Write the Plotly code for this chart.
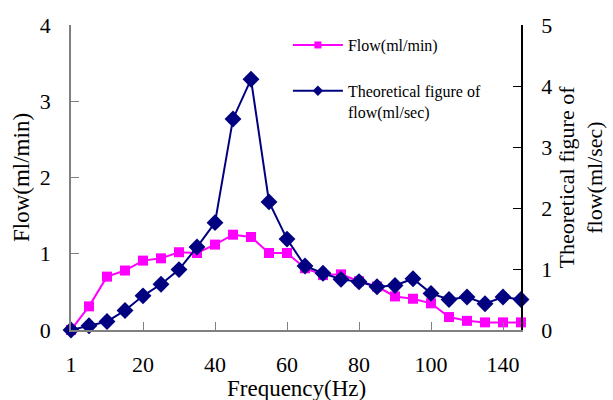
import plotly.graph_objects as go

freq_labels = ["1", "5", "10", "15", "20", "25", "30", "35", "40", "45", "50", "55", "60",
               "65", "70", "75", "80", "85", "90", "95", "100", "110", "120", "130", "140", "150"]
flow = [0.0, 0.31, 0.70, 0.78, 0.91, 0.94, 1.02, 1.01, 1.12, 1.25, 1.22, 1.01, 1.01,
        0.81, 0.72, 0.73, 0.64, 0.57, 0.44, 0.41, 0.35, 0.17, 0.12, 0.10, 0.10, 0.10]
theory = [0.0, 0.07, 0.14, 0.32, 0.56, 0.75, 0.99, 1.36, 1.76, 3.46, 4.11, 2.10, 1.49,
          1.05, 0.93, 0.83, 0.79, 0.71, 0.73, 0.84, 0.60, 0.50, 0.54, 0.43, 0.54, 0.50]
tick_idx = [0, 4, 8, 12, 16, 20, 24]

x = list(range(len(freq_labels)))
FONT = "Liberation Serif"
PINK = "#FF00FF"
NAVY = "#000080"

fig = go.Figure()
fig.add_trace(go.Scatter(x=x, y=flow, mode="lines+markers", name="Flow(ml/min)",
                         line=dict(color=PINK, width=2),
                         marker=dict(symbol="square", size=10, color=PINK),
                         cliponaxis=False, showlegend=False, yaxis="y"))
fig.add_trace(go.Scatter(x=x, y=theory, mode="lines+markers", name="theory",
                         line=dict(color=NAVY, width=2),
                         marker=dict(symbol="diamond", size=13, color=NAVY),
                         cliponaxis=False, showlegend=False, yaxis="y2"))
# legend entries
fig.add_trace(go.Scatter(x=[None], y=[None], mode="lines+markers", name="Flow(ml/min)",
                         line=dict(color=PINK, width=2), legendgroup="a",
                         marker=dict(symbol="square", size=7, color=PINK)))
fig.add_trace(go.Scatter(x=[None], y=[None], mode="lines+markers",
                         name="Theoretical figure of<br>flow(ml/sec)", legendgroup="b",
                         line=dict(color=NAVY, width=2),
                         marker=dict(symbol="diamond", size=8, color=NAVY)))

fig.update_layout(
    width=613, height=400,
    margin=dict(l=71, r=92, t=25, b=70),
    paper_bgcolor="white", plot_bgcolor="white",
    font=dict(family=FONT, size=22, color="black"),
    showlegend=True,
    legend=dict(x=0.482, y=0.99, xanchor="left", yanchor="top",
                font=dict(family=FONT, size=16, color="black"),
                bgcolor="rgba(0,0,0,0)", valign="top",
                tracegroupgap=22, itemwidth=50, traceorder="grouped"),
    xaxis=dict(range=[0, 25], tickmode="array", tickvals=tick_idx,
               ticktext=[freq_labels[i] for i in tick_idx],
               showgrid=False, zeroline=False, showline=True, automargin=False,
               linecolor="#808080", linewidth=1.5,
               ticks="inside", ticklen=8, tickcolor="#808080",
               ticklabelstandoff=14),
    yaxis=dict(range=[0, 4], dtick=1, showgrid=False, zeroline=False, showline=True,
               automargin=False,
               linecolor="#808080", linewidth=1.5,
               ticks="inside", ticklen=8, tickcolor="#808080",
               ticklabelstandoff=14,
               title=dict(text="Flow(ml/min)", font=dict(size=23), standoff=4)),
    yaxis2=dict(range=[0, 5], dtick=1, overlaying="y", side="right",
                showgrid=False, zeroline=False, showline=True, automargin=False,
                linecolor="black", linewidth=1.5,
                ticks="inside", ticklen=8, tickcolor="black",
                ticklabelstandoff=14,
                title=dict(text="Theoretical figure of<br>flow(ml/sec)", font=dict(size=22), standoff=7)),
    annotations=[dict(text="Frequency(Hz)", xref="paper", yref="paper",
                      x=0.5, y=-58 / 305, xanchor="center", yanchor="middle",
                      showarrow=False, font=dict(family=FONT, size=23, color="black"))],
)

fig.write_html("out.html")
